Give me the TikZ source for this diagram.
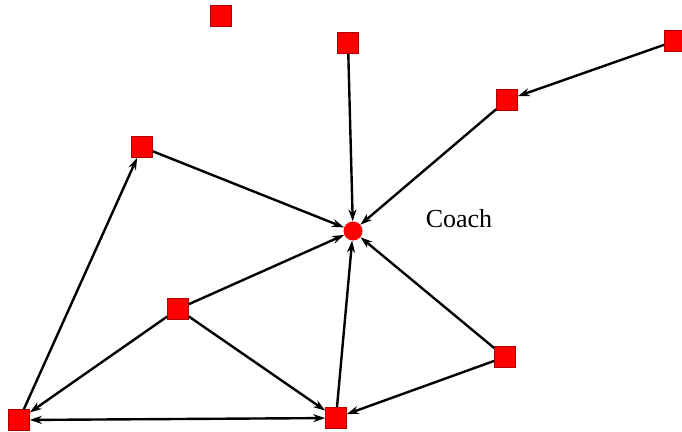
\documentclass[tikz,border=0pt]{standalone}
\usepackage{fontspec}
\setmainfont{Liberation Serif}
\usetikzlibrary{arrows.meta}
\begin{document}
\begin{tikzpicture}[x=1pt,y=-1pt,
  actor/.style={draw=red!70!black, line width=0.6pt, fill=red, minimum size=21pt, inner sep=0pt, rectangle},
  hub/.style={fill=red, circle, minimum size=19pt, inner sep=0pt},
  tie/.style={line width=2.4pt, -{Stealth[length=12pt,width=8pt]}},
  bitie/.style={line width=2.4pt, {Stealth[length=12pt,width=8pt]}-{Stealth[length=12pt,width=8pt]}}]
  \useasboundingbox (0,0) rectangle (682,431);
  \begin{scope}
    \clip (0,0) rectangle (682,431);
    % actors
    \node[actor] (a) at (221,16) {};
    \node[actor] (b) at (348,43) {};
    \node[actor] (c) at (675,41) {};
    \node[actor] (d) at (507,100) {};
    \node[actor] (e) at (142,147) {};
    \node[hub]   (coach) at (353,231) {};
    \node[actor] (f) at (178,309) {};
    \node[actor] (g) at (505,357) {};
    \node[actor] (h) at (19,420) {};
    \node[actor] (i) at (336,418) {};
    % ties
    \draw[tie] (b) -- (coach);
    \draw[tie] (c) -- (d);
    \draw[tie] (d) -- (coach);
    \draw[tie] (e) -- (coach);
    \draw[tie] (f) -- (coach);
    \draw[tie] (g) -- (coach);
    \draw[tie] (i) -- (coach);
    \draw[tie] (h) -- (e);
    \draw[bitie] (h) -- (i);
    \draw[tie] (f) -- (h);
    \draw[tie] (f) -- (i);
    \draw[tie] (g) -- (i);
  \end{scope}
  \node[font=\fontsize{26}{30}\selectfont, inner sep=0pt] (label) at (459,219) {Coach};
\end{tikzpicture}
\end{document}
